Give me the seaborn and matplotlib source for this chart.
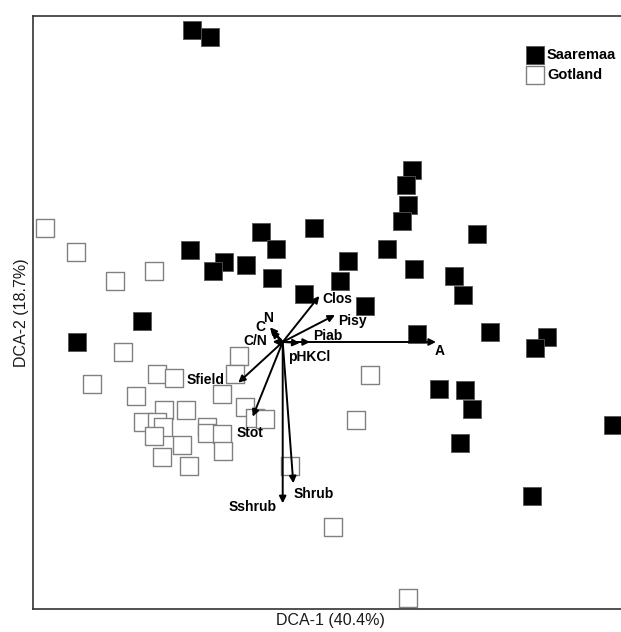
import numpy as np
import pandas as pd
import matplotlib
matplotlib.use("Agg")
import matplotlib.pyplot as plt
import seaborn as sns

# DCA site scores
saaremaa_x = [-0.907, -0.727, 1.290, 1.233, 1.253, 1.196, 1.940, 0.313, -0.220, -0.930,
              -0.067, -0.590, -0.694, -0.370, -0.110, 0.653, 1.043, 1.316, 1.710, 1.800,
              0.573, 0.210, 0.823, 2.073, -1.404, -2.060, 1.340, 2.640, 2.523, 1.560,
              1.826, 1.896, 3.300, 1.776, 2.493]
saaremaa_y = [3.125, 3.055, 1.720, 1.570, 1.370, 1.213, 1.080, 1.143, 1.103, 0.920,
              0.930, 0.803, 0.710, 0.767, 0.637, 0.810, 0.930, 0.730, 0.660, 0.470,
              0.613, 0.480, 0.363, 0.103, 0.207, 0.000, 0.080, 0.047, -0.060, -0.467,
              -0.480, -0.673, -0.830, -1.007, -1.540]

gotland_x = [-2.377, -2.067, -1.284, -1.680, -1.597, -1.910, -1.260, -1.084, -0.437, -0.482,
             -0.605, -1.467, -1.184, -0.970, -0.374, -0.275, -0.182, -1.394, -1.260, -1.194,
             -1.284, -0.754, -0.754, -0.604, -1.010, -0.594, -1.207, -0.940, 0.868, 0.736,
             0.073, 0.503, 1.250]
gotland_y = [1.143, 0.903, 0.713, 0.610, -0.100, -0.417, -0.323, -0.357, -0.137, -0.320,
             -0.522, -0.540, -0.680, -0.680, -0.653, -0.763, -0.770, -0.797, -0.797, -0.853,
             -0.940, -0.847, -0.913, -0.920, -1.030, -1.090, -1.153, -1.237, -0.333, -0.780,
             -1.237, -1.853, -2.557]

# fitted environmental vectors
env_names = ["Clos", "Pisy", "Piab", "pHKCl", "A", "C/N", "C", "N",
             "Sfield", "Stot", "Shrub", "Sshrub"]
env_x = [0.366, 0.523, 0.273, 0.170, 1.533, -0.100, -0.117, -0.127,
         -0.444, -0.300, 0.106, 0.000]
env_y = [0.460, 0.270, 0.000, -0.010, 0.000, 0.003, 0.110, 0.147,
         -0.407, -0.747, -1.413, -1.613]

# label placement (x, y, ha)
label_pos = {
    "Clos": (0.393, 0.430, "left"),
    "Pisy": (0.550, 0.210, "left"),
    "Piab": (0.303, 0.063, "left"),
    "pHKCl": (0.053, -0.147, "left"),
    "A": (1.573, -0.090, "center"),
    "C/N": (-0.157, 0.010, "right"),
    "C": (-0.227, 0.150, "center"),
    "N": (-0.147, 0.243, "center"),
    "Sfield": (-0.577, -0.380, "right"),
    "Stot": (-0.457, -0.913, "left"),
    "Shrub": (0.113, -1.520, "left"),
    "Sshrub": (-0.057, -1.650, "right"),
}

sns.set_style("white")
plt.rcParams["font.family"] = ["Liberation Sans", "DejaVu Sans"]
plt.rcParams["text.color"] = "black"
plt.rcParams["axes.labelcolor"] = "#1a1a1a"

fig = plt.figure(figsize=(6.21, 6.32), dpi=100)
ax = fig.add_axes([33 / 621, 23 / 632, 594 / 621, 593 / 632])

sns.scatterplot(x=saaremaa_x, y=saaremaa_y, marker="s", s=170, color="black",
                edgecolor="#555555", linewidth=0.6, label="Saaremaa", ax=ax, zorder=3)
sns.scatterplot(x=gotland_x, y=gotland_y, marker="s", s=170, color="white",
                edgecolor="#808080", linewidth=1.0, label="Gotland", ax=ax, zorder=2)

for name, dx, dy in zip(env_names, env_x, env_y):
    ax.annotate("", xy=(dx, dy), xytext=(0, 0),
                arrowprops=dict(arrowstyle="-|>", color="black", lw=1.4,
                                mutation_scale=10, shrinkA=0, shrinkB=0),
                zorder=4)
    lx, ly, ha = label_pos[name]
    ax.text(lx, ly, name, ha=ha, va="center", fontsize=10, fontweight="bold",
            color="black", zorder=5)

ax.set_xlim(-2.497, 3.443)
ax.set_ylim(-2.67, 3.26)
ax.set_xticks([])
ax.set_yticks([])
for sp in ax.spines.values():
    sp.set_color("#333333")
    sp.set_linewidth(1.2)

ax.set_xlabel("DCA-1 (40.4%)", fontsize=11.5, labelpad=3)
ax.set_ylabel("DCA-2 (18.7%)", fontsize=11.5, labelpad=3)

leg = ax.legend(loc="upper left", bbox_to_anchor=(0.835, 0.94),
                bbox_transform=fig.transFigure, frameon=False,
                handletextpad=0.35, labelspacing=0.45, borderpad=0.2,
                handlelength=1.0, markerscale=1.0)
for t in leg.get_texts():
    t.set_fontweight("bold")
    t.set_fontsize(10.5)
    t.set_color("black")

fig.savefig("out.png", dpi=100)
